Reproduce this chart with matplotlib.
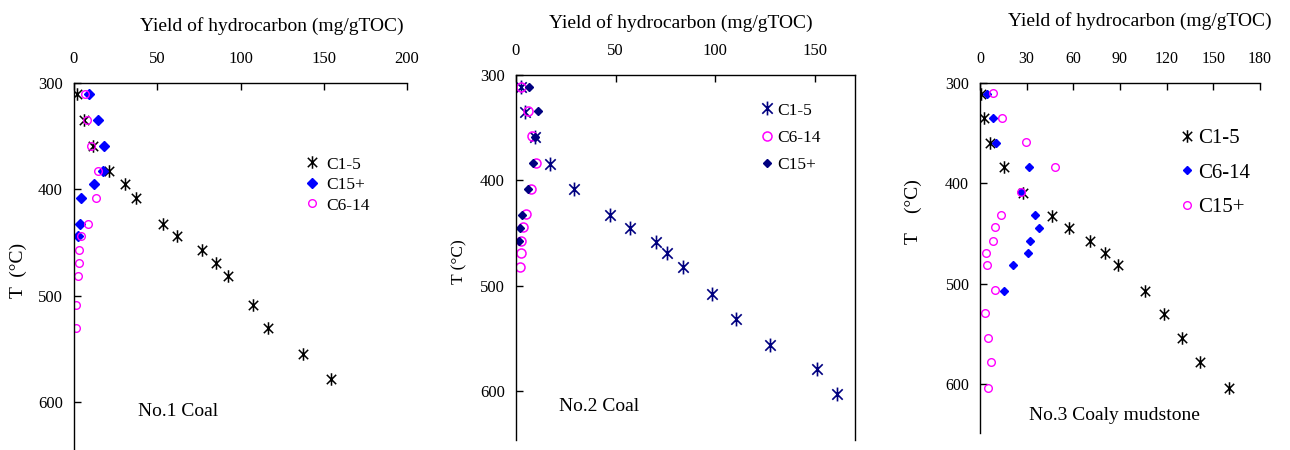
import matplotlib
matplotlib.use('Agg')
import matplotlib.pyplot as plt
from matplotlib.path import Path

plt.rcParams['font.family'] = ['Liberation Serif', 'DejaVu Serif']

# ---- data ----
# No.1 Coal
t1_c15 = [310, 335, 359, 383, 395, 408, 433, 444, 457, 469, 481, 509, 530, 555, 578]
y1_c15 = [1.6, 6.0, 11.6, 21.2, 30.8, 37.2, 53.4, 62.0, 76.6, 85.4, 92.4, 107.4, 116.4, 137.6, 154.6]
t1_c15p = [310, 335, 359, 383, 395, 408, 433, 444]
y1_c15p = [9.0, 14.6, 18.0, 17.6, 11.8, 4.4, 3.8, 2.2]
t1_c614 = [310, 335, 359, 383, 408, 433, 444, 457, 469, 481, 509, 530]
y1_c614 = [6.4, 7.8, 10.4, 14.2, 13.4, 8.6, 4.4, 2.8, 2.8, 2.2, 1.4, 1.4]

# No.2 Coal
t2_c15 = [311, 335, 359, 384, 408, 433, 445, 458, 469, 482, 508, 531, 556, 579, 602]
y2_c15 = [2.3, 4.5, 9.5, 17.2, 29.2, 47.2, 57.1, 70.1, 75.8, 83.6, 98.5, 110.5, 127.5, 150.9, 161.1]
t2_c614 = [311, 334, 358, 383, 408, 432, 444, 457, 469, 482]
y2_c614 = [2.5, 6.2, 8.2, 9.8, 7.7, 4.8, 3.7, 2.7, 2.7, 1.8]
t2_c15p = [311, 334, 359, 383, 408, 433, 445, 457]
y2_c15p = [6.5, 10.9, 9.3, 8.7, 5.8, 2.8, 2.2, 1.5]

# No.3 Coaly mudstone
t3_c15 = [311, 335, 360, 384, 410, 433, 445, 458, 470, 481, 507, 530, 554, 578, 604]
y3_c15 = [0.9, 2.4, 6.4, 15.4, 27.6, 46.5, 57.2, 70.7, 80.6, 88.5, 106.0, 118.0, 130.0, 141.4, 159.9]
t3_c614 = [311, 335, 360, 384, 409, 432, 445, 458, 470, 481, 507]
y3_c614 = [4.5, 8.1, 10.5, 31.5, 26.1, 35.6, 37.9, 32.1, 30.6, 21.0, 15.2]
t3_c15p = [310, 335, 359, 384, 409, 432, 444, 458, 470, 481, 506, 529, 554, 578, 604]
y3_c15p = [8.6, 13.9, 29.4, 48.0, 26.6, 13.3, 9.9, 8.4, 3.6, 4.3, 9.9, 3.4, 5.1, 6.9, 5.1]

W, H = 1290, 450
fig = plt.figure(figsize=(W / 100, H / 100), dpi=100)

# X with a vertical bar through it, like the Excel star marker
star = Path([(0, -1), (0, 1), (-0.75, -0.75), (0.75, 0.75), (-0.75, 0.75), (0.75, -0.75)],
            [Path.MOVETO, Path.LINETO] * 3)


def px_axes(left, top, right, bottom):
    return fig.add_axes([left / W, 1 - bottom / H, (right - left) / W, (bottom - top) / H])


def style(ax, xlim, ylim, xticks, right_spine=False, fs=12):
    ax.set_xlim(*xlim)
    ax.set_ylim(*ylim)
    ax.xaxis.tick_top()
    ax.set_xticks(xticks)
    ax.set_yticks([300, 400, 500, 600])
    ax.spines['bottom'].set_visible(False)
    ax.spines['right'].set_visible(right_spine)
    for s in ax.spines.values():
        s.set_linewidth(1.0)
    ax.tick_params(direction='in', length=5, width=1.0)
    ax.tick_params(axis='x', pad=11.5, labelsize=fs)
    ax.tick_params(axis='y', pad=8, labelsize=fs)


magenta = '#FF00FF'
blue = '#0000FF'
navy = '#000080'

# ---- panel 1 ----
ax1 = px_axes(74, 83, 407, 450)
style(ax1, (0, 200), (645, 300), [0, 50, 100, 150, 200])
ax1.plot(y1_c15, t1_c15, ls='none', marker=star, ms=9, mec='black', mew=1.1, label='C1-5')
ax1.plot(y1_c15p, t1_c15p, ls='none', marker='D', ms=5.5, color=blue, label='C15+')
ax1.plot(y1_c614, t1_c614, ls='none', marker='o', ms=5.5, mfc='none', mec=magenta, mew=1.0, label='C6-14')
ax1.legend(loc='upper left', bbox_to_anchor=(0.70, 0.80), frameon=False, fontsize=12.5,
           handlelength=0.6, handletextpad=0.5, labelspacing=0.25, borderpad=0, borderaxespad=0)
ax1.text(0.311, 0.104, 'No.1 Coal', transform=ax1.transAxes, ha='center', va='center', fontsize=14)
ax1.set_xlabel('Yield of hydrocarbon (mg/gTOC)', fontsize=14)
ax1.xaxis.set_label_position('top')
ax1.xaxis.set_label_coords(0.595, 1.155)
ax1.xaxis.label.set_va('center')
ax1.set_ylabel('T  (°C)', fontsize=14)
ax1.yaxis.set_label_coords(-0.168, 0.49)
ax1.yaxis.label.set_va('center')

# ---- panel 2 ----
ax2 = px_axes(516, 75, 855, 440)
style(ax2, (0, 170), (646, 300), [0, 50, 100, 150], right_spine=True)
ax2.plot(y2_c15, t2_c15, ls='none', marker=star, ms=10, mec=navy, mew=1.2, label='C1-5')
ax2.plot(y2_c614, t2_c614, ls='none', marker='o', ms=6.5, mfc='none', mec=magenta, mew=1.1, label='C6-14')
ax2.plot(y2_c15p, t2_c15p, ls='none', marker='D', ms=3.8, color=navy, label='C15+')
ax2.legend(loc='upper left', bbox_to_anchor=(0.725, 0.925), frameon=False, fontsize=12.5,
           handlelength=0.6, handletextpad=0.3, labelspacing=0.65, borderpad=0, borderaxespad=0)
ax2.text(0.245, 0.093, 'No.2 Coal', transform=ax2.transAxes, ha='center', va='center', fontsize=14)
ax2.set_xlabel('Yield of hydrocarbon (mg/gTOC)', fontsize=14)
ax2.xaxis.set_label_position('top')
ax2.xaxis.set_label_coords(0.487, 1.142)
ax2.xaxis.label.set_va('center')
ax2.set_ylabel('T (°C)', fontsize=12.5)
ax2.yaxis.set_label_coords(-0.168, 0.488)
ax2.yaxis.label.set_va('center')

# ---- panel 3 ----
ax3 = px_axes(980, 83, 1260, 433)
style(ax3, (0, 180), (649, 300), [0, 30, 60, 90, 120, 150, 180], fs=11.5)
ax3.plot(y3_c15, t3_c15, ls='none', marker=star, ms=9, mec='black', mew=1.1, label='C1-5')
ax3.plot(y3_c614, t3_c614, ls='none', marker='D', ms=3.8, color=blue, label='C6-14')
ax3.plot(y3_c15p, t3_c15p, ls='none', marker='o', ms=5.5, mfc='none', mec=magenta, mew=1.0, label='C15+')
ax3.legend(loc='upper left', bbox_to_anchor=(0.72, 0.87), frameon=False, fontsize=15,
           handlelength=0.5, handletextpad=0.3, labelspacing=0.72, borderpad=0, borderaxespad=0)
ax3.text(0.48, 0.051, 'No.3 Coaly mudstone', transform=ax3.transAxes, ha='center', va='center', fontsize=14)
ax3.set_xlabel('Yield of hydrocarbon (mg/gTOC)', fontsize=14)
ax3.xaxis.set_label_position('top')
ax3.xaxis.set_label_coords(0.571, 1.177)
ax3.xaxis.label.set_va('center')
ax3.set_ylabel('T    (°C)', fontsize=14)
ax3.yaxis.set_label_coords(-0.239, 0.634)
ax3.yaxis.label.set_va('center')

fig.savefig('out.png', dpi=100)
